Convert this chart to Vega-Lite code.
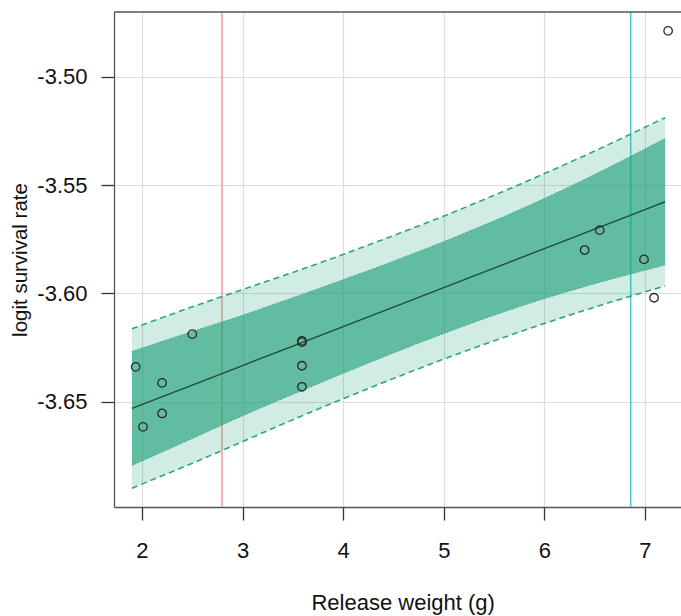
{
  "$schema": "https://vega.github.io/schema/vega-lite/v6.json",
  "width": 567,
  "height": 495,
  "autosize": {"type": "none"},
  "padding": {"left": 114, "top": 12, "right": 0, "bottom": 109},
  "config": {
    "font": "Liberation Sans",
    "view": {"stroke": null},
    "axis": {
      "domainColor": "#555555",
      "domainWidth": 1.3,
      "tickColor": "#333333",
      "tickWidth": 1.3,
      "tickSize": 13,
      "gridColor": "#dddddd",
      "gridWidth": 1.2,
      "labelFont": "Liberation Sans",
      "labelFontSize": 22,
      "labelColor": "#111111",
      "titleFont": "Liberation Sans",
      "titleFontWeight": "normal",
      "titleColor": "#111111"
    }
  },
  "datasets": {
    "band": [
      {"w": 1.9, "fit": -3.6531, "lo1": -3.6794, "hi1": -3.6268, "lo2": -3.6899, "hi2": -3.6163},
      {"w": 2.5, "fit": -3.6423, "lo1": -3.6670, "hi1": -3.6176, "lo2": -3.6784, "hi2": -3.6062},
      {"w": 3.0, "fit": -3.6333, "lo1": -3.6565, "hi1": -3.6101, "lo2": -3.6684, "hi2": -3.5982},
      {"w": 3.5, "fit": -3.6243, "lo1": -3.6466, "hi1": -3.6020, "lo2": -3.6583, "hi2": -3.5903},
      {"w": 4.0, "fit": -3.6153, "lo1": -3.6369, "hi1": -3.5937, "lo2": -3.6486, "hi2": -3.5820},
      {"w": 4.5, "fit": -3.6063, "lo1": -3.6275, "hi1": -3.5851, "lo2": -3.6393, "hi2": -3.5733},
      {"w": 5.0, "fit": -3.5973, "lo1": -3.6185, "hi1": -3.5761, "lo2": -3.6303, "hi2": -3.5643},
      {"w": 5.5, "fit": -3.5883, "lo1": -3.6101, "hi1": -3.5665, "lo2": -3.6219, "hi2": -3.5547},
      {"w": 6.0, "fit": -3.5793, "lo1": -3.6024, "hi1": -3.5562, "lo2": -3.6139, "hi2": -3.5447},
      {"w": 6.5, "fit": -3.5703, "lo1": -3.5955, "hi1": -3.5451, "lo2": -3.6063, "hi2": -3.5343},
      {"w": 7.0, "fit": -3.5613, "lo1": -3.5893, "hi1": -3.5333, "lo2": -3.5993, "hi2": -3.5233},
      {"w": 7.2, "fit": -3.5577, "lo1": -3.5869, "hi1": -3.5285, "lo2": -3.5965, "hi2": -3.5189}
    ],
    "pts": [
      {"w": 1.937, "s": -3.6339},
      {"w": 2.01, "s": -3.6616},
      {"w": 2.2, "s": -3.6413},
      {"w": 2.2, "s": -3.6554},
      {"w": 2.5, "s": -3.6188},
      {"w": 3.59, "s": -3.6219},
      {"w": 3.59, "s": -3.6225},
      {"w": 3.59, "s": -3.6334},
      {"w": 3.59, "s": -3.6431},
      {"w": 6.4, "s": -3.58},
      {"w": 6.55, "s": -3.5708},
      {"w": 6.99, "s": -3.5843},
      {"w": 7.09, "s": -3.602},
      {"w": 7.23, "s": -3.4788}
    ],
    "vlines": [
      {"w": 2.795, "kind": "a"},
      {"w": 6.858, "kind": "b"}
    ]
  },
  "encoding": {
    "x": {
      "field": "w",
      "type": "quantitative",
      "scale": {"domain": [1.7217, 7.358], "nice": false, "zero": false},
      "axis": {
        "values": [2, 3, 4, 5, 6, 7],
        "format": "d",
        "title": "Release weight (g)",
        "titleFontSize": 22,
        "labelBaseline": "alphabetic",
        "labelPadding": 37,
        "titleX": 288.7,
        "titleY": 102,
        "titleBaseline": "alphabetic",
        "titleAnchor": null
      }
    }
  },
  "layer": [
    {
      "data": {"name": "vlines"},
      "mark": {"type": "rule", "strokeWidth": 1.5},
      "encoding": {
        "color": {
          "field": "kind",
          "type": "nominal",
          "scale": {"domain": ["a", "b"], "range": ["#f59b95", "#3ecfd2"]},
          "legend": null
        }
      }
    },
    {
      "data": {"name": "band"},
      "mark": {"type": "area", "color": "#1b9e77", "opacity": 0.2, "interpolate": "monotone"},
      "encoding": {
        "y": {
          "field": "lo2",
          "type": "quantitative",
          "scale": {"domain": [-3.6986, -3.4701], "nice": false, "zero": false},
          "axis": {
            "values": [-3.65, -3.6, -3.55, -3.5],
            "format": ".2f",
            "labelExpr": "replace(datum.label, '\u2212', '-')",
            "labelPadding": 14,
            "title": "logit survival rate",
            "titleFontSize": 20.5,
            "titleAngle": -90,
            "titleX": -94,
            "titleY": 247.5,
            "titleAlign": "center",
            "titleBaseline": "middle",
            "titleAnchor": null
          }
        },
        "y2": {"field": "hi2"}
      }
    },
    {
      "data": {"name": "band"},
      "mark": {"type": "area", "color": "#1b9e77", "opacity": 0.62, "interpolate": "monotone"},
      "encoding": {
        "y": {"field": "lo1", "type": "quantitative"},
        "y2": {"field": "hi1"}
      }
    },
    {
      "data": {"name": "band"},
      "mark": {"type": "line", "color": "#2fa57e", "strokeWidth": 1.6, "strokeDash": [6, 4], "interpolate": "monotone"},
      "encoding": {"y": {"field": "lo2", "type": "quantitative"}}
    },
    {
      "data": {"name": "band"},
      "mark": {"type": "line", "color": "#2fa57e", "strokeWidth": 1.6, "strokeDash": [6, 4], "interpolate": "monotone"},
      "encoding": {"y": {"field": "hi2", "type": "quantitative"}}
    },
    {
      "data": {"name": "band"},
      "mark": {"type": "line", "color": "#3aa883", "strokeWidth": 1, "strokeDash": [1.5, 1.5], "interpolate": "monotone"},
      "encoding": {"y": {"field": "lo1", "type": "quantitative"}}
    },
    {
      "data": {"name": "band"},
      "mark": {"type": "line", "color": "#3aa883", "strokeWidth": 1, "strokeDash": [1.5, 1.5], "interpolate": "monotone"},
      "encoding": {"y": {"field": "hi1", "type": "quantitative"}}
    },
    {
      "data": {"name": "band"},
      "mark": {"type": "line", "color": "#1d4d3c", "strokeWidth": 1.4},
      "encoding": {"y": {"field": "fit", "type": "quantitative"}}
    },
    {
      "data": {"name": "pts"},
      "mark": {"type": "point", "shape": "circle", "filled": false, "stroke": "#2a2a2a", "strokeWidth": 1.3, "size": 72, "opacity": 1},
      "encoding": {"y": {"field": "s", "type": "quantitative"}}
    },
    {
      "data": {"values": [{}]},
      "mark": {"type": "rule", "color": "#555555", "strokeWidth": 1.3},
      "encoding": {"x": null, "y": {"datum": -3.4701, "type": "quantitative"}}
    }
  ]
}
